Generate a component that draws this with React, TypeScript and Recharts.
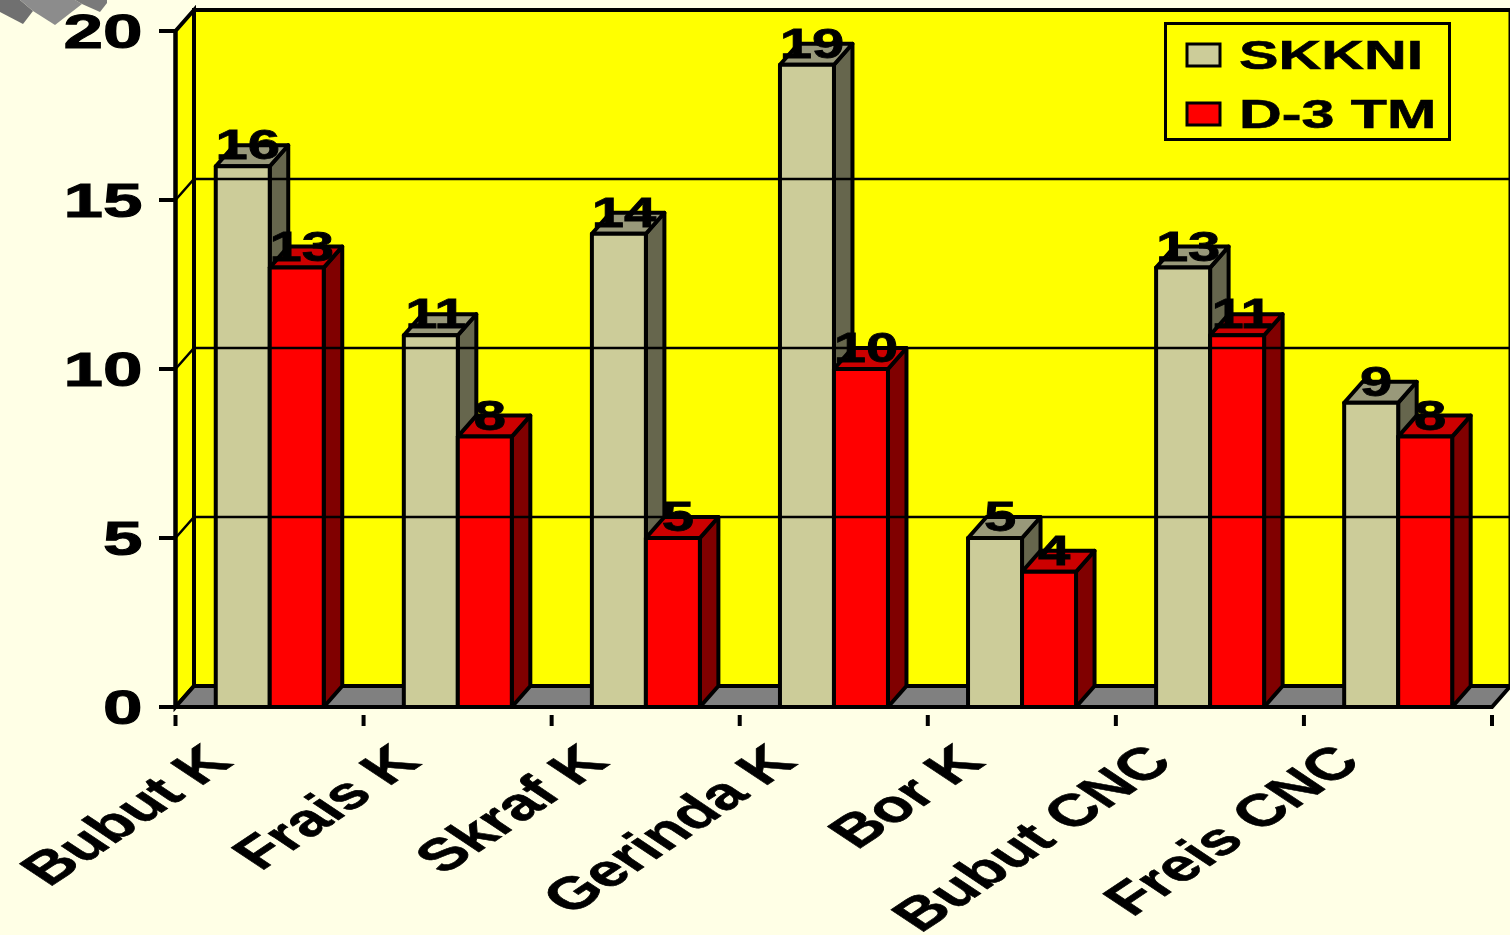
import { BarChart, Bar, XAxis, YAxis, Legend, LabelList, ReferenceArea, ReferenceLine } from 'recharts'

const categories = ['Bubut K', 'Frais K', 'Skraf K', 'Gerinda K', 'Bor K', 'Bubut CNC', 'Freis CNC']
const skkni = [16, 11, 14, 19, 5, 13, 9]
const d3tm = [13, 8, 5, 10, 4, 11, 8]
const yTicks = [0, 5, 10, 15, 20]

const rows = categories.map((name, i) => ({ name, skkni: skkni[i], d3tm: d3tm[i] }))

// depth of the fake 3D projection
const DX = 18.5
const DY = 21
const LINE = 4
const FONT = '"Liberation Sans", Arial, sans-serif'

const shades: Record<string, { top: string; side: string }> = {
  '#CCCC99': { top: '#99997A', side: '#66664D' },
  '#FF0000': { top: '#CC0000', side: '#800000' },
}

function Box3D({ x, y, width, height, fill }: any) {
  const s = shades[fill]
  const r = x + width
  const b = y + height
  return (
    <g stroke="#000" strokeWidth={LINE} strokeLinejoin="round">
      <polygon fill={s.side} points={`${r},${y} ${r + DX},${y - DY} ${r + DX},${b - DY} ${r},${b}`} />
      <polygon fill={s.top} points={`${x},${y} ${x + DX},${y - DY} ${r + DX},${y - DY} ${r},${y}`} />
      <rect x={x} y={y} width={width} height={height} fill={fill} />
    </g>
  )
}

// back wall, side wall and floor of the chart box
function Walls({ x, y, width, height }: any) {
  const r = x + width
  const b = y + height
  return (
    <g stroke="#000" strokeWidth={LINE}>
      <polygon fill="#FFFF00" points={`${x + DX},${y - DY} ${r + DX},${y - DY} ${r + DX},${b - DY} ${x + DX},${b - DY}`} />
      <polygon fill="#FFFF00" points={`${x},${y} ${x + DX},${y - DY} ${x + DX},${b - DY} ${x},${b}`} />
      <polygon fill="#808080" points={`${x},${b} ${x + DX},${b - DY} ${r + DX},${b - DY} ${r},${b}`} />
    </g>
  )
}

// gridline running along the side wall and then across the back wall
function GridLine({ x1, x2, y1 }: any) {
  return (
    <polyline
      fill="none"
      stroke="#000"
      strokeWidth={2.5}
      points={`${x1},${y1} ${x1 + DX},${y1 - DY} ${x2 + DX},${y1 - DY}`}
    />
  )
}

function YTick({ x, y, payload }: any) {
  return (
    <g>
      <line x1={159} x2={176} y1={y} y2={y} stroke="#000" strokeWidth={LINE} />
      <text
        transform={`translate(${x - 25},${y + 16.5}) scale(1.48,1)`}
        textAnchor="end"
        fontFamily={FONT}
        fontWeight="bold"
        fontSize={48}
        stroke="#000"
        strokeWidth={1}
        fill="#000"
      >
        {payload.value}
      </text>
    </g>
  )
}

function XTick({ x, y, payload, index }: any) {
  const band = 1316.5 / categories.length
  const left = x - band / 2
  return (
    <g>
      <line x1={left} x2={left} y1={y} y2={y + 11} stroke="#000" strokeWidth={LINE} />
      {index === categories.length - 1 && (
        <line x1={left + band} x2={left + band} y1={y} y2={y + 11} stroke="#000" strokeWidth={LINE} />
      )}
      <text
        transform={`translate(${x - 35},${y + 49}) scale(1.5,1) rotate(-45)`}
        textAnchor="end"
        fontFamily={FONT}
        fontWeight="bold"
        fontSize={45}
        stroke="#000"
        strokeWidth={0.6}
        fill="#000"
      >
        {payload.value}
      </text>
    </g>
  )
}

function ValueLabel({ x, y, width, value }: any) {
  return (
    <text
      transform={`translate(${x + width / 2 + 5},${y - 7}) scale(1.38,1)`}
      textAnchor="middle"
      fontFamily={FONT}
      fontWeight="bold"
      fontSize={42}
      stroke="#000"
      strokeWidth={0.8}
      fill="#000"
    >
      {value}
    </text>
  )
}

function LegendBox({ payload }: any) {
  return (
    <svg width={288} height={120} style={{ display: 'block' }}>
      <rect x={1.5} y={1.5} width={284} height={116} fill="#FFFF00" stroke="#000" strokeWidth={3} />
      {(payload || []).map((item: any, i: number) => (
        <g key={item.value}>
          <rect x={23} y={22 + i * 59} width={33} height={22} fill={item.color} stroke="#000" strokeWidth={3} />
          <text
            transform={`translate(75,${47 + i * 59}) scale(1.48,1)`}
            fontFamily={FONT}
            fontWeight="bold"
            fontSize={40}
            stroke="#000"
            strokeWidth={0.6}
            fill="#000"
          >
            {item.value}
          </text>
        </g>
      ))}
    </svg>
  )
}

export default function App() {
  return (
    <div style={{ width: 1510, height: 935, position: 'relative', overflow: 'hidden' }}>
      <style>{'body{margin:0;background:#FFFFE6}'}</style>
      {/* corner of the slide ornament */}
      <svg width={115} height={30} style={{ position: 'absolute', left: 0, top: 0 }}>
        <polygon fill="#707070" points="0,0 0,12 23,24 33,11 20,0" />
        <polygon fill="#8C8C8C" points="20,0 33,11 55,25 82,4 75,0" />
        <polygon fill="#7A7A7A" points="75,0 82,4 100,12 107,3 107,0" />
      </svg>
      <BarChart
        width={1510}
        height={935}
        data={rows}
        margin={{ top: 31, right: 18, bottom: 0, left: 0 }}
        barGap={0}
        barCategoryGap="21.4%"
        style={{ position: 'absolute', left: 0, top: 0 }}
      >
        <ReferenceArea y1={0} y2={20} shape={<Walls />} ifOverflow="visible" />
        {yTicks.slice(1, -1).map((t) => (
          <ReferenceLine key={t} y={t} shape={<GridLine />} ifOverflow="visible" />
        ))}
        <XAxis
          dataKey="name"
          height={228}
          interval={0}
          axisLine={{ stroke: '#000', strokeWidth: LINE }}
          tickLine={false}
          tick={<XTick />}
        />
        <YAxis
          width={175.5}
          domain={[0, 20]}
          ticks={yTicks}
          interval={0}
          axisLine={{ stroke: '#000', strokeWidth: LINE }}
          tickLine={false}
          tick={<YTick />}
        />
        <Legend
          layout="horizontal"
          verticalAlign="middle"
          itemSorter={null}
          content={<LegendBox />}
          wrapperStyle={{ position: 'absolute', left: 1164, top: 22, width: 288, height: 120 }}
        />
        <Bar dataKey="skkni" name="SKKNI" fill="#CCCC99" shape={<Box3D />} isAnimationActive={false}>
          <LabelList dataKey="skkni" content={<ValueLabel />} />
        </Bar>
        <Bar dataKey="d3tm" name="D-3 TM" fill="#FF0000" shape={<Box3D />} isAnimationActive={false}>
          <LabelList dataKey="d3tm" content={<ValueLabel />} />
        </Bar>
      </BarChart>
    </div>
  )
}
